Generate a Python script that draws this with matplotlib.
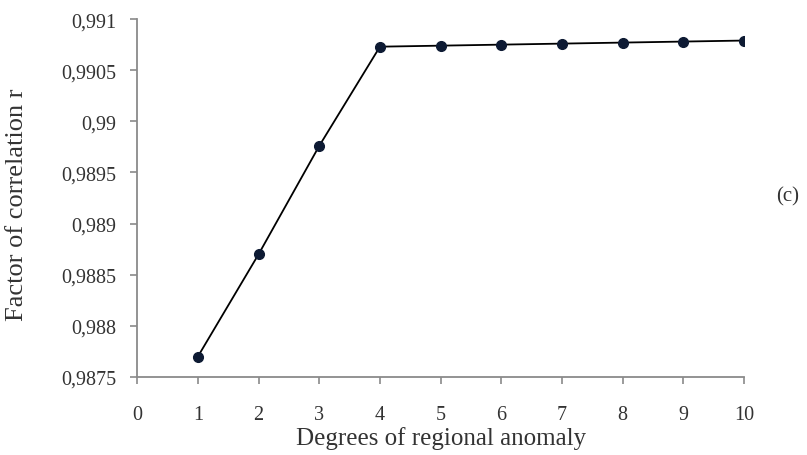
import matplotlib.pyplot as plt
from matplotlib.ticker import FuncFormatter

plt.rcParams['font.family'] = ['Liberation Serif', 'DejaVu Serif']

degrees = [1, 2, 3, 4, 5, 6, 7, 8, 9, 10]
r_values = [0.98770, 0.98870, 0.98976, 0.99073, 0.99074, 0.99075,
            0.99076, 0.99077, 0.99078, 0.99079]
y_ticks = [0.9875, 0.988, 0.9885, 0.989, 0.9895, 0.99, 0.9905, 0.991]

fig = plt.figure(figsize=(8.07, 4.56), dpi=100)
ax = fig.add_axes([0.170, 0.171, 0.752, 0.785])

ax.plot(degrees, r_values, color='black', linewidth=1.3, marker='o',
        markersize=7, markerfacecolor='#0d1a33', markeredgecolor='#0d1a33')

ax.set_xlim(0, 10)
ax.set_ylim(0.9875, 0.991)
ax.set_xticks(range(0, 11))
ax.set_yticks(y_ticks)
ax.yaxis.set_major_formatter(FuncFormatter(lambda v, p: ('%g' % v).replace('.', ',')))

for s in ['top', 'right']:
    ax.spines[s].set_visible(False)
for s in ['left', 'bottom']:
    ax.spines[s].set_color('#8a8a8a')
    ax.spines[s].set_linewidth(1.3)
ax.tick_params(axis='both', colors='#8a8a8a', labelcolor='#333333',
               length=5, width=1.2, labelsize=14.5)
ax.tick_params(axis='x', pad=15)
ax.tick_params(axis='y', pad=10)

ax.set_xlabel('Degrees of regional anomaly', fontsize=18, color='#333333', va='center')
ax.xaxis.set_label_coords(0.501, -0.170)
ax.set_ylabel('Factor of correlation r', fontsize=19, color='#333333', va='center')
ax.yaxis.set_label_coords(-0.198, 0.483)

fig.text(0.976, 0.568, '(c)', fontsize=15, color='#333333', ha='center', va='center')

fig.savefig('out.png', dpi=100)
